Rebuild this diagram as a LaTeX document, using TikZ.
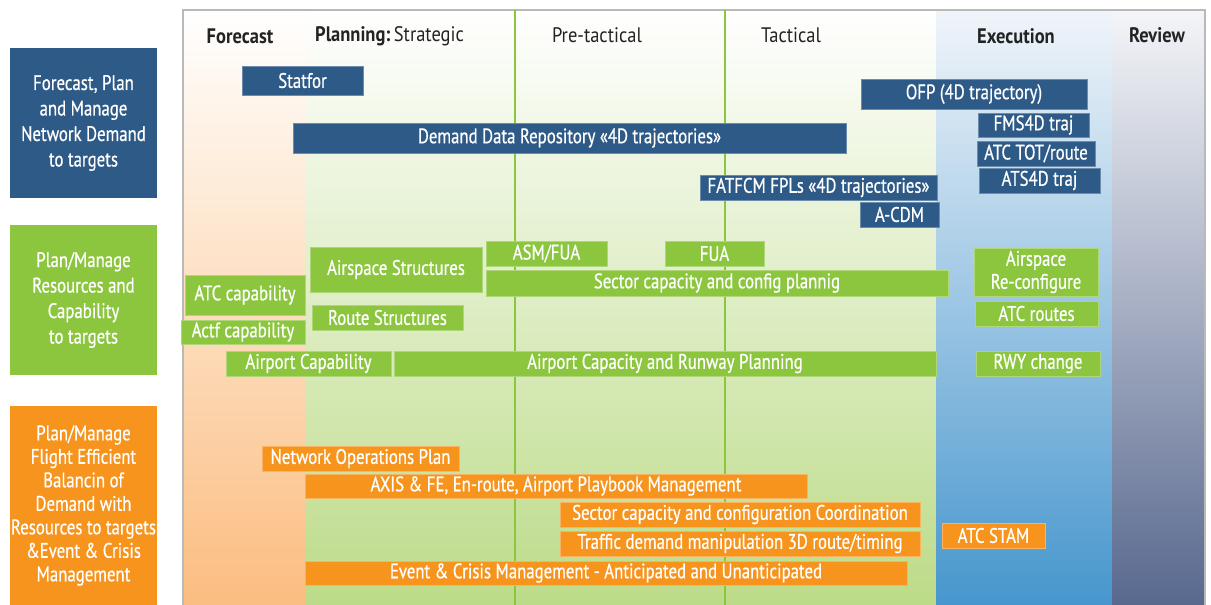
\documentclass[tikz,border=0pt]{standalone}
\usepackage{fontspec}
\setmainfont{PT Sans}[FakeStretch=0.8]
\newfontfamily\barfont{PT Sans}[FakeStretch=0.8,FakeBold=0.6]
\newfontfamily\hdrfont{PT Sans}[FakeStretch=0.88]
\definecolor{nblue}{RGB}{46,90,135}
\definecolor{ngreen}{RGB}{140,198,63}
\definecolor{norange}{RGB}{247,148,29}
\definecolor{hdr}{RGB}{35,35,35}
\tikzset{
  barbase/.style={inner sep=0pt, text=white, font=\barfont\fontsize{21}{22}\selectfont},
  bluebar/.style={barbase, fill=nblue, draw=nblue!70!white, line width=0.6pt},
  greenbar/.style={barbase, fill=ngreen, draw=ngreen!70!white, line width=0.6pt},
  orangebar/.style={barbase, fill=norange, draw=norange!70!white, line width=0.6pt},
  leftbox/.style={inner sep=0pt, text=white, align=center},
  hdrtxt/.style={text=hdr, inner sep=0pt, font=\hdrfont\fontsize{21}{22}\selectfont},
  vline/.style={draw=ngreen, line width=1.4pt}
}
% box from (x1,y1) to (x2,y2): style, x1, y1, x2, y2, name, text
\newcommand\bx[7]{\node[#1, minimum width={(#4)-(#2)}, minimum height={(#5)-(#3)}] (#6) at ({((#2)+(#4))/2},{((#3)+(#5))/2}) {#7};}
\begin{document}
\begin{tikzpicture}[x=1pt,y=-1pt]
\useasboundingbox (0,0) rectangle (1211,605);
\fill[white] (0,0) rectangle (1211,605);
% column backgrounds
\shade[top color=white, middle color={rgb,255:red,252;green,214;blue,176}, bottom color={rgb,255:red,251;green,189;blue,128}] (183,10) rectangle (306,605);
\shade[top color=white, middle color={rgb,255:red,222;green,236;blue,200}, bottom color={rgb,255:red,188;green,219;blue,136}] (306,10) rectangle (936,605);
\shade[top color={rgb,255:red,240;green,245;blue,250}, middle color={rgb,255:red,168;green,201;blue,230}, bottom color={rgb,255:red,70;green,150;blue,205}] (936,10) rectangle (1112,605);
\shade[top color={rgb,255:red,244;green,245;blue,248}, middle color={rgb,255:red,170;green,178;blue,200}, bottom color={rgb,255:red,88;green,104;blue,142}] (1112,10) rectangle (1205,605);
\draw[gray!55, line width=1.2pt] (183,605) -- (183,10) -- (1205,10) -- (1205,605);
% phase separators
\coordinate (l1t) at (515,10); \coordinate (l1b) at (515,605);
\coordinate (l2t) at (725,10); \coordinate (l2b) at (725,605);
\draw[vline] (l1t) -- (l1b);
\draw[vline] (l2t) -- (l2b);
% headers
\node[hdrtxt, font=\hdrfont\fontsize{21}{22}\selectfont\bfseries] (hforecast) at (240,36) {Forecast};
\node[hdrtxt, anchor=west] (hplanning) at (315,36) {\textbf{Planning:}\,Strategic};
\node[hdrtxt] (hpretac) at (597,35) {Pre-tactical};
\node[hdrtxt] (htac) at (791,35) {Tactical};
\node[hdrtxt, font=\hdrfont\fontsize{21}{22}\selectfont\bfseries] (hexec) at (1016,36) {Execution};
\node[hdrtxt, font=\hdrfont\fontsize{21}{22}\selectfont\bfseries] (hreview) at (1157,35) {Review};
% left category boxes
\bx{leftbox, fill=nblue, font=\barfont\fontsize{21}{25.5}\selectfont}{10}{48}{157}{198}{catdemand}{Forecast, Plan\\and Manage\\Network Demand\\to targets}
\bx{leftbox, fill=ngreen, font=\barfont\fontsize{21}{25.5}\selectfont}{10}{225}{157}{375}{catres}{Plan/Manage\\Resources and\\Capability\\to targets}
\bx{leftbox, fill=norange, font=\barfont\fontsize{21}{23.5}\selectfont}{10}{406}{157}{605}{catbal}{Plan/Manage\\Flight Efficient\\Balancin of\\Demand with\\Resources to targets\\\&Event \& Crisis\\Management}
% blue bars
\bx{bluebar}{242}{66}{363}{95}{statfor}{Statfor}
\bx{bluebar}{293}{123}{846}{153}{ddr}{Demand Data Repository «4D trajectories»}
\bx{bluebar}{861}{79}{1087}{109}{ofp}{OFP (4D trajectory)}
\bx{bluebar}{978}{113}{1089}{137}{fms}{FMS4D traj}
\bx{bluebar}{977}{141}{1095}{166}{atctot}{ATC TOT/route}
\bx{bluebar}{979}{168}{1100}{193}{ats}{ATS4D traj}
\bx{bluebar}{700}{175}{937}{200}{fatfcm}{FATFCM FPLs «4D trajectories»}
\bx{bluebar}{860}{202}{939}{227}{acdm}{A-CDM}
% green bars
\bx{greenbar}{310}{247}{482}{292}{airspace}{Airspace Structures}
\bx{greenbar}{486}{241}{607}{266}{asmfua}{ASM/FUA}
\bx{greenbar}{665}{241}{764}{266}{fua}{FUA}
\bx{greenbar}{486}{270}{948}{296}{sectplan}{Sector capacity and config plannig}
\bx{greenbar}{185}{275}{305}{315}{atccap}{ATC capability}
\bx{greenbar}{181}{320}{305}{344}{actfcap}{Actf capability}
\bx{greenbar}{312}{305}{463}{330}{route}{Route Structures}
\bx{greenbar}{226}{351}{391}{376}{apcap}{Airport Capability}
\bx{greenbar}{394}{351}{936}{376}{apcrp}{Airport Capacity and Runway Planning}
\bx{greenbar, align=center, font=\barfont\fontsize{21}{23}\selectfont}{974}{248}{1098}{296}{reconf}{Airspace\\Re-configure}
\bx{greenbar}{975}{301}{1098}{326}{atcroutes}{ATC routes}
\bx{greenbar}{976}{351}{1100}{376}{rwy}{RWY change}
% orange bars
\bx{orangebar}{262}{446}{459}{471}{nop}{Network Operations Plan}
\bx{orangebar}{305}{474}{807}{498}{axis}{AXIS \& FE, En-route, Airport Playbook Management}
\bx{orangebar}{560}{502}{920}{527}{sectcoord}{Sector capacity and configuration Coordination}
\bx{orangebar}{560}{531}{920}{556}{traffic}{Traffic demand manipulation 3D route/timing}
\bx{orangebar}{305}{561}{907}{585}{event}{Event \& Crisis Management - Anticipated and Unanticipated}
\bx{orangebar}{942}{523}{1045}{548}{stam}{ATC STAM}
\end{tikzpicture}
\end{document}
